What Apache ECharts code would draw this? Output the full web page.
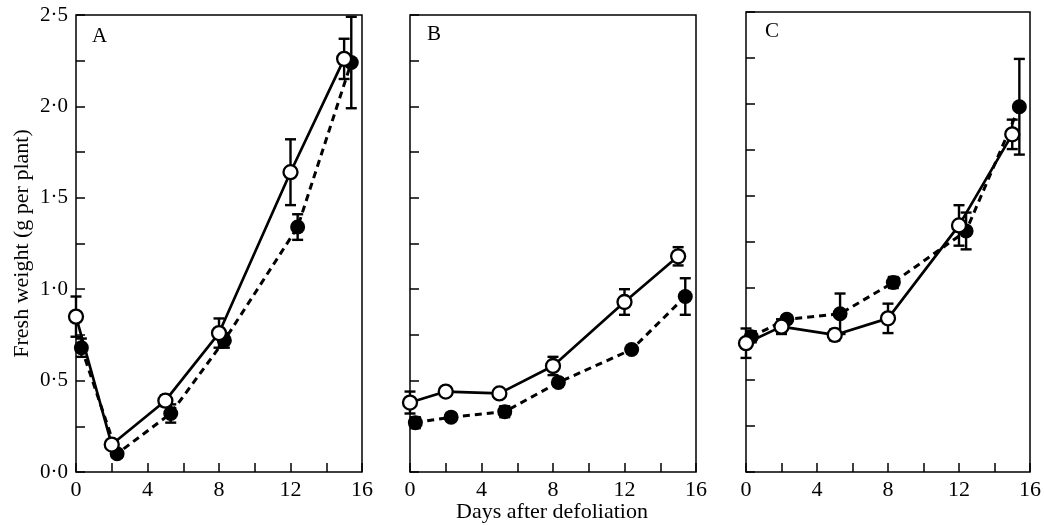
<!DOCTYPE html>
<html>
<head>
<meta charset="utf-8">
<script src="https://cdn.jsdelivr.net/npm/echarts@6/dist/echarts.min.js"></script>
<style>
  html, body { margin: 0; padding: 0; background: #fff; }
  #chart { width: 1044px; height: 525px; }
</style>
</head>
<body>
<div id="chart"></div>
<script>
// days of harvest; filled symbols are drawn slightly to the right
const openDays = [0, 2, 5, 8, 12, 15];
const filledDays = [0.3, 2.3, 5.3, 8.3, 12.4, 15.4];

// panel A
const aOpen = [0.85, 0.15, 0.39, 0.76, 1.64, 2.26];
const aOpenErr = [0.11, 0.02, 0.03, 0.08, 0.18, 0.11];
const aFilled = [0.68, 0.10, 0.32, 0.72, 1.34, 2.24];
const aFilledErr = [0.05, 0.02, 0.05, 0.04, 0.07, 0.25];

// panel B
const bOpen = [0.38, 0.44, 0.43, 0.58, 0.93, 1.18];
const bOpenErr = [0.06, 0.02, 0.02, 0.05, 0.07, 0.05];
const bFilled = [0.27, 0.30, 0.33, 0.49, 0.67, 0.96];
const bFilledErr = [0.03, 0.02, 0.03, 0.02, 0.02, 0.10];

// panel C
const cOpen = [0.70, 0.79, 0.745, 0.835, 1.34, 1.835];
const cOpenErr = [0.08, 0.04, 0.03, 0.08, 0.11, 0.08];
const cFilled = [0.735, 0.83, 0.86, 1.03, 1.31, 1.985];
const cFilledErr = [0.03, 0.02, 0.11, 0.03, 0.10, 0.26];

const panelLetters = ['A', 'B', 'C'];
const xTickLabels = { 0: '0', 4: '4', 8: '8', 12: '12', 16: '16' };
const yTickLabels = { 0: '0·0', 0.5: '0·5', 1: '1·0', 1.5: '1·5', 2: '2·0', 2.5: '2·5' };

const font = 'Liberation Serif';
const myChart = echarts.init(document.getElementById('chart'));

const grids = [
    { left: 76, top: 15, width: 286, height: 457 },
    { left: 410, top: 15, width: 286, height: 457 },
    { left: 746, top: 12, width: 286, height: 460 }
];

const panels = [
    [aOpen, aOpenErr, aFilled, aFilledErr],
    [bOpen, bOpenErr, bFilled, bFilledErr],
    [cOpen, cOpenErr, cFilled, cFilledErr]
];

function errData(days, mean, err) {
    return days.map((d, i) => [d, mean[i] - err[i], mean[i] + err[i]]);
}

function renderErr(params, api) {
    const lo = api.coord([api.value(0), api.value(1)]);
    const hi = api.coord([api.value(0), api.value(2)]);
    const cap = 5.5;
    const style = { stroke: '#000', lineWidth: 2.4 };
    return {
        type: 'group',
        children: [
            { type: 'line', shape: { x1: lo[0], y1: lo[1], x2: hi[0], y2: hi[1] }, style: style },
            { type: 'line', shape: { x1: lo[0] - cap, y1: lo[1], x2: lo[0] + cap, y2: lo[1] }, style: style },
            { type: 'line', shape: { x1: hi[0] - cap, y1: hi[1], x2: hi[0] + cap, y2: hi[1] }, style: style }
        ]
    };
}

const xAxis = [], yAxis = [], series = [];
grids.forEach((g, i) => {
    xAxis.push({
        type: 'value', gridIndex: i, min: 0, max: 16, interval: 2,
        axisLine: { show: false },
        axisTick: { inside: true, length: 9, lineStyle: { color: '#000', width: 1.5 } },
        splitLine: { show: false },
        axisLabel: {
            color: '#000', fontFamily: font, fontSize: 22, margin: 7,
            formatter: v => xTickLabels[v] || ''
        }
    });
    yAxis.push({
        type: 'value', gridIndex: i, min: 0, max: 2.5, interval: 0.25,
        axisLine: { show: false },
        axisTick: { inside: true, length: 9, lineStyle: { color: '#000', width: 1.5 } },
        splitLine: { show: false },
        axisLabel: {
            show: i === 0, color: '#000', fontFamily: font, fontSize: 21, margin: 8,
            formatter: v => yTickLabels[v] || ''
        },
        name: i === 0 ? 'Fresh weight (g per plant)' : '',
        nameLocation: 'middle', nameGap: 43,
        nameTextStyle: { color: '#000', fontFamily: font, fontSize: 22 }
    });
    const [om, oe, fm, fe] = panels[i];
    series.push(
        {
            type: 'custom', xAxisIndex: i, yAxisIndex: i, z: 1,
            renderItem: renderErr, data: errData(openDays, om, oe)
        },
        {
            type: 'custom', xAxisIndex: i, yAxisIndex: i, z: 1,
            renderItem: renderErr, data: errData(filledDays, fm, fe)
        },
        {
            type: 'line', xAxisIndex: i, yAxisIndex: i, z: 3,
            data: filledDays.map((d, k) => [d, fm[k]]),
            symbol: 'circle', symbolSize: 15,
            itemStyle: { color: '#000' },
            lineStyle: { color: '#000', width: 3, type: [7, 5] },
            silent: true
        },
        {
            type: 'line', xAxisIndex: i, yAxisIndex: i, z: 4,
            data: openDays.map((d, k) => [d, om[k]]),
            symbol: 'circle', symbolSize: 14,
            itemStyle: { color: '#fff', borderColor: '#000', borderWidth: 2.3 },
            lineStyle: { color: '#000', width: 2.7 },
            silent: true
        }
    );
});

const option = {
    animation: false,
    backgroundColor: '#fff',
    grid: grids.map(g => Object.assign({ show: true, borderColor: '#000', borderWidth: 1.5 }, g)),
    xAxis: xAxis,
    yAxis: yAxis,
    series: series,
    graphic: [
        { type: 'text', left: 92, top: 26, style: { text: panelLetters[0], font: '21px "Liberation Serif"', fill: '#000' } },
        { type: 'text', left: 427, top: 24, style: { text: panelLetters[1], font: '21px "Liberation Serif"', fill: '#000' } },
        { type: 'text', left: 765, top: 21, style: { text: panelLetters[2], font: '21px "Liberation Serif"', fill: '#000' } },
        { type: 'text', x: 552, y: 512, style: { text: 'Days after defoliation', font: '22px "Liberation Serif"', fill: '#000', align: 'center', verticalAlign: 'middle' } }
    ]
};
myChart.setOption(option);
</script>
</body>
</html>
